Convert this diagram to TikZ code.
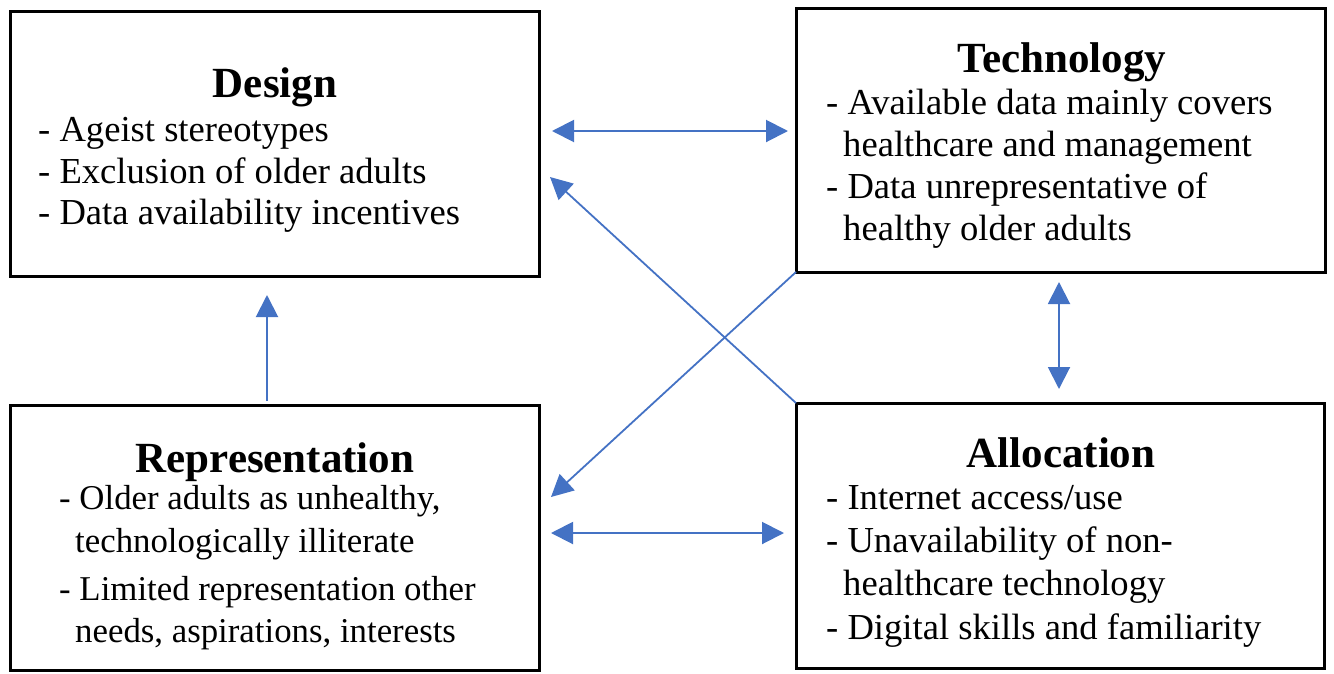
\documentclass[tikz,border=0pt]{standalone}
\usepackage{fontspec}
\setmainfont{Liberation Serif}
\usetikzlibrary{arrows.meta}
\definecolor{arrblue}{HTML}{4472C4}
\begin{document}
\begin{tikzpicture}[x=1pt,y=-1pt,
  box/.style={draw=black, line width=3pt, inner sep=0pt, outer sep=0pt, anchor=north west},
  txt/.style={anchor=base west, inner sep=0pt, font=\fontsize{36.6}{42}\selectfont},
  smtxt/.style={anchor=base west, inner sep=0pt, font=\fontsize{34.8}{42}\selectfont},
  ttl/.style={anchor=base, inner sep=0pt, font=\fontsize{43}{50}\selectfont\bfseries},
  arr/.style={draw=arrblue, line width=2pt, -{Triangle[length=22pt,width=22pt]}},
  darr/.style={draw=arrblue, line width=2pt, {Triangle[length=22pt,width=22pt]}-{Triangle[length=22pt,width=22pt]}},
  thinarr/.style={draw=arrblue, line width=1.8pt, -{Triangle[length=22pt,width=22pt]}}]
\useasboundingbox (0,0) rectangle (1334,673);
% boxes
\node[box, minimum width=529pt, minimum height=265pt] (design) at (10,11) {};
\node[box, minimum width=529pt, minimum height=264pt] (tech) at (796,8) {};
\node[box, minimum width=529pt, minimum height=265pt] (rep) at (10,405) {};
\node[box, minimum width=528pt, minimum height=265pt] (alloc) at (796,403) {};
% Design text
\node[ttl] (dT) at (275,97) {Design};
\node[txt] (d1) at (38,141) {- Ageist stereotypes};
\node[txt] (d2) at (38,183) {- Exclusion of older adults};
\node[txt] (d3) at (38,224) {- Data availability incentives};
% Technology text
\node[ttl] (tT) at (1062,72) {Technology};
\node[txt] (t1) at (826,114) {- Available data mainly covers};
\node[txt] (t2) at (843,156) {healthcare and management};
\node[txt] (t3) at (826,198) {- Data unrepresentative of};
\node[txt] (t4) at (843,240) {healthy older adults};
% Representation text
\node[ttl] (rT) at (275,472) {Representation};
\node[smtxt] (r1) at (59,509) {- Older adults as unhealthy,};
\node[smtxt] (r2) at (75,552) {technologically illiterate};
\node[smtxt] (r3) at (59,600) {- Limited representation other};
\node[smtxt] (r4) at (75,642) {needs, aspirations, interests};
% Allocation text
\node[ttl] (aT) at (1061,467) {Allocation};
\node[txt] (a1) at (826,509) {- Internet access/use};
\node[txt] (a2) at (826,552) {- Unavailability of non-};
\node[txt] (a3) at (843,595) {healthcare technology};
\node[txt] (a4) at (826,639) {- Digital skills and familiarity};
% arrow end points
\coordinate (dtL) at (552,131);
\coordinate (dtR) at (788,131);
\coordinate (raL) at (551,533);
\coordinate (raR) at (784,533);
\coordinate (taT) at (1059,282);
\coordinate (taB) at (1059,389);
\coordinate (rdS) at (267,401);
\coordinate (rdT) at (267,295);
\coordinate (dTip) at (550,177);
\coordinate (rTip) at (551,497);
% connectors
\draw[darr] (dtL) -- (dtR);
\draw[darr] (raL) -- (raR);
\draw[darr] (taT) -- (taB);
\draw[arr] (rdS) -- (rdT);
\draw[thinarr] (alloc.north west) -- (dTip);
\draw[thinarr] (tech.south west) -- (rTip);
\end{tikzpicture}
\end{document}
